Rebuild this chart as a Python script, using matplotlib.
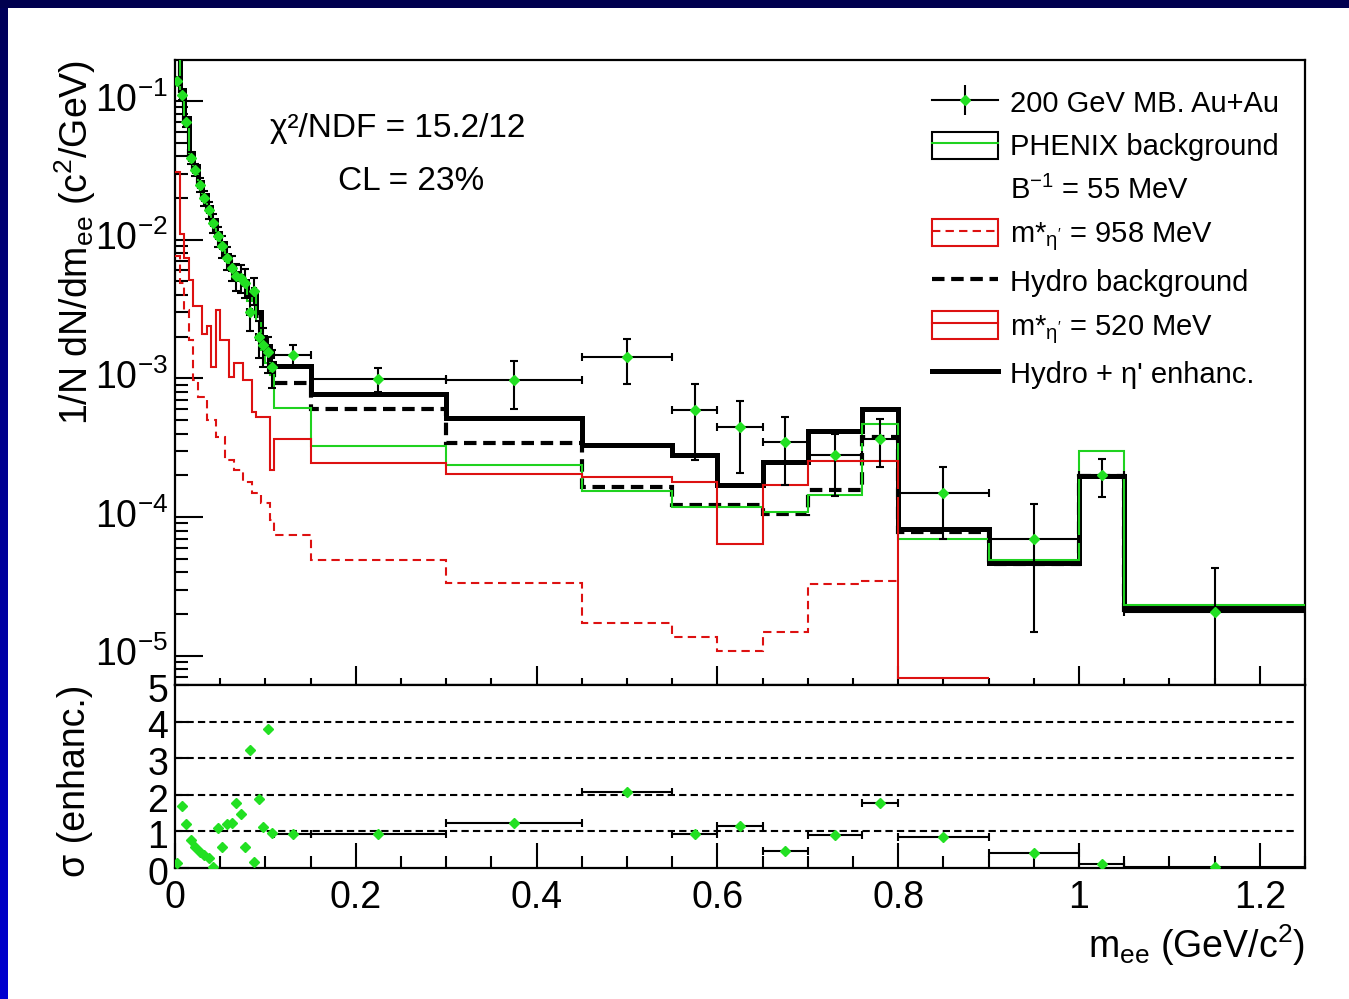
import numpy as np
import matplotlib
matplotlib.use('Agg')
import matplotlib.pyplot as plt
import matplotlib.transforms as mtransforms
from matplotlib.lines import Line2D
from matplotlib.patches import Patch, Rectangle
from matplotlib.ticker import LogLocator, MultipleLocator, NullFormatter, FuncFormatter
from matplotlib.legend_handler import HandlerTuple
from matplotlib.colors import LinearSegmentedColormap

plt.rcParams['font.family'] = ['Liberation Sans', 'DejaVu Sans']
plt.rcParams['mathtext.fontset'] = 'custom'
plt.rcParams['mathtext.rm'] = 'Liberation Sans'
plt.rcParams['mathtext.it'] = 'Liberation Sans:italic'
plt.rcParams['mathtext.bf'] = 'Liberation Sans:bold'
plt.rcParams['mathtext.default'] = 'regular'

# ---------------- data ----------------
# bin edges (GeV/c^2): fine 5 MeV bins below 0.11, then wide bins
low_edges = [0.0, 0.005, 0.010, 0.015, 0.020, 0.025, 0.030, 0.035, 0.040, 0.045,
             0.050, 0.055, 0.060, 0.065, 0.070, 0.075, 0.080, 0.085, 0.090, 0.095,
             0.100, 0.105, 0.110]
high_edges = [0.15, 0.30, 0.45, 0.55, 0.60, 0.65, 0.70, 0.76, 0.80, 0.90, 1.00, 1.05, 1.25]
edges = low_edges + high_edges

# data points (200 GeV MB Au+Au)
data_x = [0.0025, 0.0075, 0.0125, 0.0175, 0.0225, 0.0275, 0.0325, 0.0375, 0.0425, 0.0475,
          0.0525, 0.0575, 0.0625, 0.0675, 0.0725, 0.0775, 0.0825, 0.0875, 0.0925, 0.0975,
          0.1025, 0.1075,
          0.13, 0.225, 0.375, 0.50, 0.575, 0.625, 0.675, 0.73, 0.78, 0.85, 0.95, 1.025, 1.15]
data_y = [0.140, 0.110, 0.071, 0.039, 0.032, 0.025, 0.020, 0.0164, 0.0132, 0.0106,
          0.0090, 0.0074, 0.0063, 0.0055, 0.0053, 0.0049, 0.0030, 0.0043, 0.0020, 0.00174,
          0.00155, 0.00121,
          1.47e-3, 9.85e-4, 9.8e-4, 1.43e-3, 5.9e-4, 4.43e-4, 3.5e-4, 2.8e-4, 3.64e-4,
          1.48e-4, 6.95e-5, 2.0e-4, 2.06e-5]
data_hi = [0.150, 0.118, 0.077, 0.043, 0.035, 0.028, 0.0225, 0.0186, 0.0152, 0.0123,
           0.0106, 0.0088, 0.0076, 0.0067, 0.0066, 0.0061, 0.0039, 0.0053, 0.0026, 0.0023,
           0.0020, 0.0016,
           1.75e-3, 1.18e-3, 1.34e-3, 1.91e-3, 9.1e-4, 6.9e-4, 5.3e-4, 4.0e-4, 5.07e-4,
           2.28e-4, 1.24e-4, 2.62e-4, 4.27e-5]
data_lo = [0.130, 0.102, 0.065, 0.035, 0.029, 0.022, 0.0175, 0.0142, 0.0112, 0.0089,
           0.0074, 0.0060, 0.0050, 0.0043, 0.0041, 0.0038, 0.0022, 0.0034, 0.0014, 0.0012,
           0.0011, 0.00085,
           1.23e-3, 8.0e-4, 6.05e-4, 9.1e-4, 2.6e-4, 2.09e-4, 1.7e-4, 1.42e-4, 2.3e-4,
           7.0e-5, 1.49e-5, 1.4e-4, 1e-7]

# Hydro + eta' enhancement (thick black)
hydro_enh = [0.25, 0.120, 0.075, 0.042, 0.034, 0.026, 0.021, 0.0172, 0.0139, 0.0112,
             0.0094, 0.0078, 0.0066, 0.0058, 0.0055, 0.0050, 0.0040, 0.0042, 0.0030, 0.0020,
             0.0017, 0.0013,
             1.22e-3, 7.7e-4, 5.2e-4, 3.31e-4, 2.8e-4, 1.70e-4, 2.48e-4, 4.2e-4, 5.98e-4,
             8.2e-5, 4.65e-5, 1.99e-4, 2.2e-5]
# Hydro background (black dashed)
hydro_bg = [0.24, 0.118, 0.073, 0.041, 0.033, 0.0255, 0.0205, 0.0168, 0.0135, 0.0109,
            0.0092, 0.0076, 0.0064, 0.0056, 0.0053, 0.0048, 0.0038, 0.0040, 0.0028, 0.0019,
            0.0016, 0.00125,
            9.3e-4, 5.98e-4, 3.4e-4, 1.66e-4, 1.22e-4, 1.22e-4, 1.06e-4, 1.57e-4, 3.8e-4,
            7.85e-5, 4.6e-5, 1.97e-4, 2.15e-5]
# PHENIX background (green)
phenix_bg = [0.22, 0.115, 0.072, 0.040, 0.032, 0.0248, 0.020, 0.0162, 0.0130, 0.0105,
             0.0089, 0.0073, 0.0062, 0.0054, 0.0051, 0.0046, 0.0036, 0.0039, 0.0026, 0.0016,
             0.0013, 0.00105,
             6.08e-4, 3.27e-4, 2.38e-4, 1.54e-4, 1.19e-4, 1.19e-4, 1.09e-4, 1.44e-4, 4.67e-4,
             7.0e-5, 4.9e-5, 3.0e-4, 2.32e-5]
# eta' with m* = 520 MeV (red solid), up to 0.9
red520 = [0.031, 0.011, 0.0074, 0.0051, 0.0033, 0.0033, 0.0021, 0.0024, 0.0012, 0.0031,
          0.0019, 0.0019, 0.00103, 0.0013, 0.0013, 0.00098, 0.00098, 0.00057, 0.00053, 0.00053,
          0.00053, 0.00022,
          3.64e-4, 2.44e-4, 2.05e-4, 1.95e-4, 1.78e-4, 6.4e-5, 1.70e-4, 2.55e-4, 2.55e-4, 6.9e-6]
# eta' with m* = 958 MeV (red dashed), up to 0.8
red958 = [0.0076, 0.0049, 0.0031, 0.0019, 0.00098, 0.00074, 0.00074, 0.00050, 0.00050, 0.00038,
          0.00038, 0.00026, 0.00026, 0.00022, 0.00022, 0.00018, 0.00018, 0.00015, 0.00015, 0.000127,
          0.000127, 9.5e-5,
          7.4e-5, 4.9e-5, 3.35e-5, 1.71e-5, 1.37e-5, 1.09e-5, 1.49e-5, 3.3e-5, 3.48e-5]

# significance panel
sig_low = [0.13, 1.69, 1.19, 0.77, 0.58, 0.45, 0.36, 0.27, 0.02, 1.08,
           0.58, 1.20, 1.22, 1.78, 1.47, 0.58, 3.22, 0.17, 1.88, 1.13,
           3.79, 0.96]
sig_high = [0.93, 0.93, 1.24, 2.08, 0.93, 1.15, 0.47, 0.90, 1.77, 0.86, 0.42, 0.10, 0.04]
sig_levels = [1, 2, 3, 4]

# ---------------- styling ----------------
GREEN = '#1fd21f'
GREEN_M = '#22e022'
RED = '#dd1111'
W_PX, H_PX = 1349, 999

fig = plt.figure(figsize=(W_PX / 100, H_PX / 100), dpi=100)
fig.patch.set_facecolor('white')


def fx(px):
    return px / W_PX


def fy(py):
    return 1 - py / H_PX


left, right = 175, 1305
top1, bot1, bot2 = 60, 685, 868
ax1 = fig.add_axes([fx(left), fy(bot1), fx(right) - fx(left), fy(top1) - fy(bot1)])
ax2 = fig.add_axes([fx(left), fy(bot2), fx(right) - fx(left), fy(bot1) - fy(bot2)])

edges_arr = np.array(edges)
xerr_all = np.diff(edges_arr) / 2.0
data_x_arr = np.array(data_x)
data_y_arr = np.array(data_y)

# histograms
ax1.stairs(hydro_enh, edges, baseline=None, color='black', lw=3.6, zorder=3)
ax1.stairs(hydro_bg, edges, baseline=None, color='black', lw=3.0, ls=(0, (3, 1.6)), zorder=3.2)
ax1.stairs(phenix_bg, edges, baseline=None, color=GREEN, lw=1.5, zorder=3.4)
ax1.stairs(red958, edges[:len(red958) + 1], baseline=None, color=RED, lw=1.5,
           ls=(0, (4, 2.5)), zorder=3.5)
ax1.stairs(red520, edges[:len(red520) + 1], baseline=None, color=RED, lw=1.5, zorder=3.6)

# data
yerr = [data_y_arr - np.array(data_lo), np.array(data_hi) - data_y_arr]
ax1.errorbar(data_x_arr, data_y_arr, xerr=xerr_all, yerr=yerr, fmt='none',
             ecolor='black', elinewidth=1.5, capsize=3, capthick=1.5, zorder=4)
ax1.plot(data_x_arr, data_y_arr, ls='none', marker='D', ms=5.5, color=GREEN_M,
         mec=GREEN_M, zorder=5)

ax1.set_yscale('log')
ax1.set_xlim(0, 1.25)
ax1.set_ylim(6.16e-6, 0.1975)

# significance
n_low = len(sig_low)
ax2.hlines(sig_levels, 0, 1.24, colors='black', lw=1.5, linestyles=(0, (3.5, 2)), zorder=1)
ax2.errorbar(data_x_arr[n_low:], sig_high, xerr=xerr_all[n_low:], fmt='none',
             ecolor='black', elinewidth=1.5, capsize=3, capthick=1.5, zorder=3)
ax2.plot(data_x_arr, sig_low + sig_high, ls='none', marker='D', ms=5.5,
         color=GREEN_M, mec=GREEN_M, zorder=4)
ax2.set_xlim(0, 1.25)
ax2.set_ylim(0, 5)

# ticks
for ax in (ax1, ax2):
    for sp in ax.spines.values():
        sp.set_linewidth(1.6)
    ax.xaxis.set_major_locator(MultipleLocator(0.2))
    ax.xaxis.set_minor_locator(MultipleLocator(0.05))

ax1.tick_params(axis='x', which='major', direction='in', length=14, width=1.5,
                labelbottom=False, top=False)
ax1.tick_params(axis='x', which='minor', direction='in', length=5, width=1.5, top=False)
ax1.yaxis.set_major_locator(LogLocator(base=10, numticks=20))
ax1.yaxis.set_minor_locator(LogLocator(base=10, subs=np.arange(2, 10), numticks=100))
ax1.yaxis.set_minor_formatter(NullFormatter())
ax1.tick_params(axis='y', which='major', direction='in', length=20, width=1.5,
                labelsize=27, pad=5, right=False)
ax1.tick_params(axis='y', which='minor', direction='in', length=9, width=1.5, right=False)

ax2.tick_params(axis='x', which='major', direction='in', length=18, width=1.5,
                labelsize=27, pad=9, top=False)
ax2.tick_params(axis='x', which='minor', direction='in', length=8.5, width=1.5, top=False)
ax2.yaxis.set_major_locator(MultipleLocator(1))
ax2.tick_params(axis='y', which='major', direction='in', length=10, width=1.5,
                labelsize=27, pad=5, right=False)

ax2.xaxis.set_major_formatter(FuncFormatter(lambda v, pos: '%g' % round(v, 3)))

# nudge the log labels up and sigma labels down a touch so "10^-5" and "5" do not collide
up = mtransforms.ScaledTranslation(0, 3 / 72, fig.dpi_scale_trans)
down = mtransforms.ScaledTranslation(0, -2 / 72, fig.dpi_scale_trans)
for lab in ax1.get_yticklabels():
    lab.set_transform(lab.get_transform() + up)
for lab in ax2.get_yticklabels():
    lab.set_transform(lab.get_transform() + down)

# axis titles
fig.text(fx(75), fy(60), r'1/N dN/dm$_{ee}$ (c$^{2}$/GeV)', rotation=90, ha='center',
         va='top', fontsize=27)
fig.text(fx(75), fy(685), 'σ (enhanc.)', rotation=90, ha='center', va='top', fontsize=27)
fig.text(fx(1305), fy(945), r'm$_{ee}$ (GeV/c$^{2}$)', ha='right', va='center', fontsize=27)

# fit text
fig.text(fx(398), fy(128), 'χ²/NDF = 15.2/12', ha='center', va='center', fontsize=24)
fig.text(fx(411), fy(182), 'CL = 23%', ha='center', va='center', fontsize=24)

# legend
h_data = (Line2D([], [], color='black', lw=1.5),
          Line2D([], [], color='black', marker='|', ms=22, mew=1.5, ls='none'),
          Line2D([], [], color=GREEN_M, marker='D', ms=5, ls='none'))
h_phenix = (Patch(facecolor='none', edgecolor='black', lw=1.5),
            Line2D([], [], color=GREEN, lw=1.5))
h_blank = Line2D([], [], color='none')
h_958 = (Patch(facecolor='none', edgecolor=RED, lw=1.5),
         Line2D([], [], color=RED, lw=1.5, ls=(0, (4, 2.5))))
h_hydro = Line2D([], [], color='black', lw=3.0, ls=(0, (3, 1.6)))
h_520 = (Patch(facecolor='none', edgecolor=RED, lw=1.5),
         Line2D([], [], color=RED, lw=1.5))
h_tot = Line2D([], [], color='black', lw=3.6)

labels = ['200 GeV MB. Au+Au', 'PHENIX background', r'B$^{-1}$ = 55 MeV',
          r'm*$_{\eta^{\prime}}$ = 958 MeV', 'Hydro background',
          r'm*$_{\eta^{\prime}}$ = 520 MeV', 'Hydro + η\' enhanc.']
handles = [h_data, h_phenix, h_blank, h_958, h_hydro, h_520, h_tot]
ax1.legend(handles, labels, loc='upper left', bbox_to_anchor=(fx(932), fy(88)),
           bbox_transform=fig.transFigure, frameon=False, fontsize=21,
           handlelength=2.27, handleheight=1.07, handletextpad=0.42,
           labelspacing=0.48, borderpad=0, borderaxespad=0,
           handler_map={tuple: HandlerTuple(ndivide=1)})

# slide frame (navy border)
fig.patches.append(Rectangle((0, fy(8)), 1, 1 - fy(8), transform=fig.transFigure,
                             facecolor='#00004f', edgecolor='none', zorder=10))
axg = fig.add_axes([0, 0, fx(8), fy(8)])
grad = np.linspace(0, 1, 256).reshape(-1, 1)
cmap = LinearSegmentedColormap.from_list('slide', ['#00005a', '#0000d0'])
axg.imshow(grad, aspect='auto', cmap=cmap, extent=[0, 1, 0, 1])
axg.set_axis_off()

fig.savefig('out.png', dpi=100)
